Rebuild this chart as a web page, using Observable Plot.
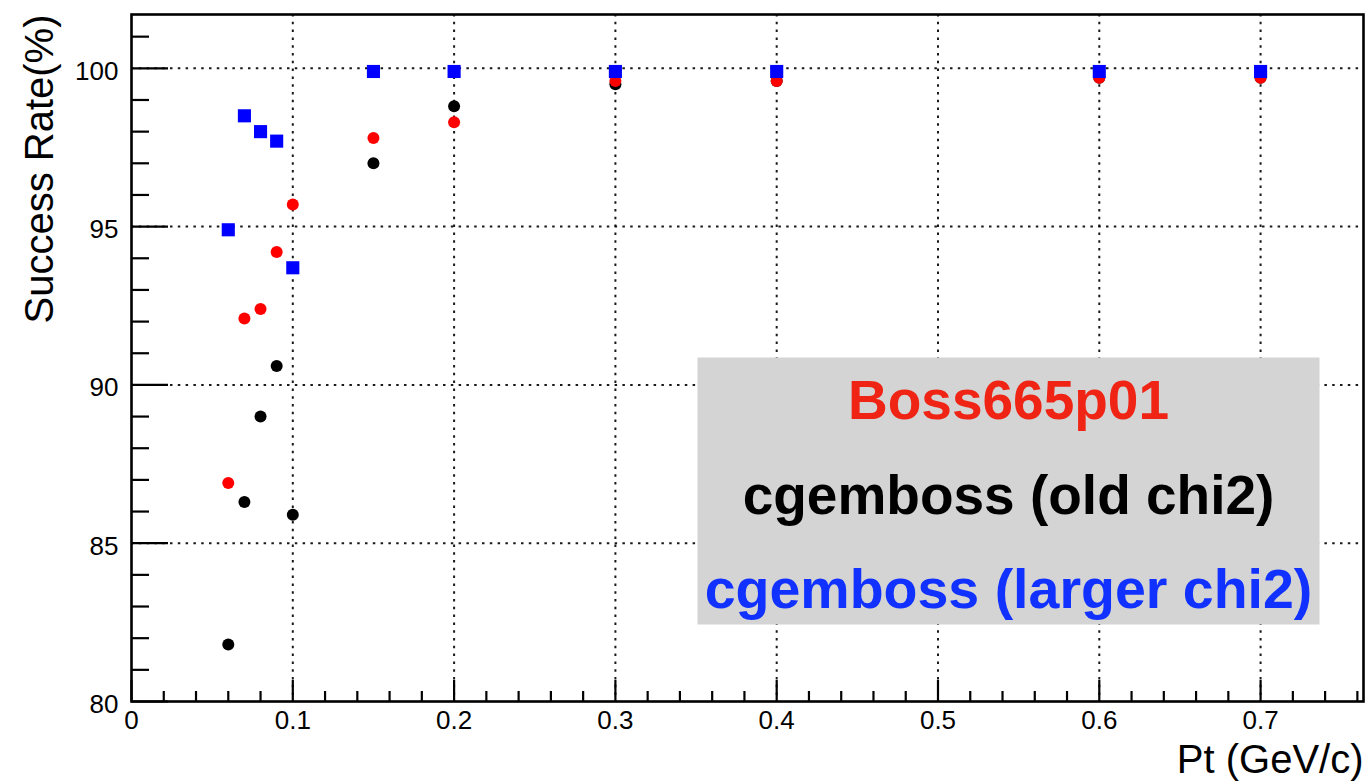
<!DOCTYPE html>
<html>
<head>
<meta charset="utf-8">
<script src="https://cdn.jsdelivr.net/npm/d3@7"></script>
<script src="https://cdn.jsdelivr.net/npm/@observablehq/plot@0.6"></script>
<style>
  body { margin: 0; background: #fff; }
  svg { display: block; }
</style>
</head>
<body>
<div id="chart"></div>
<script>
// Track-finding success rate versus transverse momentum for three reconstructions
const pt = [0.06, 0.07, 0.08, 0.09, 0.1, 0.15, 0.2, 0.3, 0.4, 0.6, 0.7];
const boss665p01 = [86.9, 92.1, 92.4, 94.2, 95.7, 97.8, 98.3, 99.6, 99.6, 99.7, 99.7];
const oldChi2    = [81.8, 86.3, 89.0, 90.6, 85.9, 97.0, 98.8, 99.5, 99.6, 99.7, 99.7];
const largerChi2 = [94.9, 98.5, 98.0, 97.7, 93.7, 99.9, 99.9, 99.9, 99.9, 99.9, 99.9];

const seriesNames = ["Boss665p01", "cgemboss (old chi2)", "cgemboss (larger chi2)"];
const xMajorTicks = [0, 0.1, 0.2, 0.3, 0.4, 0.5, 0.6, 0.7];
const yMajorTicks = [80, 85, 90, 95, 100];
const xTitle = "Pt (GeV/c)";
const yTitle = "Success Rate(%)";

const rows = (values) => pt.map((x, i) => ({x, y: values[i]}));

// minor ticks: every 0.02 in Pt, every 1% in rate
const xMinorTicks = d3.range(1, 39).filter(i => i % 5 !== 0).map(i => i * 0.02);
const yMinorTicks = d3.range(81, 102).filter(v => v % 5 !== 0);

const W = 1372, H = 781;
const mL = 131, mR = 9, mT = 14, mB = 80;
const fw = W - mL - mR, fh = H - mT - mB;

const dotted = {stroke: "#000", strokeWidth: 2, strokeDasharray: "2.5,5.3", strokeOpacity: 0.9};
const tickStyle = {stroke: "#000", strokeWidth: 2.2};
const font = "'Liberation Sans', Arial, Helvetica, sans-serif";
const plainNumber = d => `${d}`;

const chart = Plot.plot({
  width: W,
  height: H,
  marginLeft: mL,
  marginRight: mR,
  marginTop: mT,
  marginBottom: mB,
  style: {fontFamily: font, background: "#fff", color: "#000"},
  x: {domain: [0, 0.7638]},
  y: {domain: [80, 101.7]},
  marks: [
    // dotted grid at the major ticks
    Plot.ruleX(xMajorTicks.slice(1), dotted),
    Plot.ruleY(yMajorTicks.slice(1), dotted),

    // points, drawn old chi2 first so that the others sit on top
    Plot.dot(rows(oldChi2), {x: "x", y: "y", r: 6, fill: "#000", stroke: "none"}),
    Plot.dot(rows(boss665p01), {x: "x", y: "y", r: 6, fill: "#ff0000", stroke: "none"}),
    Plot.dot(rows(largerChi2), {x: "x", y: "y", r: 7.4, symbol: "square", fill: "#0000ff", stroke: "none"}),

    // legend panel
    Plot.frame({fill: "#d4d4d4", stroke: "none", insetLeft: 566, insetRight: 44, insetTop: 343, insetBottom: 77}),
    Plot.text([seriesNames[0]], {frameAnchor: "top-left", dx: 877, dy: 404, textAnchor: "middle", lineAnchor: "bottom", fontSize: 55, fontWeight: "bold", fill: "#ef2414"}),
    Plot.text([seriesNames[1]], {frameAnchor: "top-left", dx: 877, dy: 499, textAnchor: "middle", lineAnchor: "bottom", fontSize: 55, fontWeight: "bold", fill: "#000"}),
    Plot.text([seriesNames[2]], {frameAnchor: "top-left", dx: 877, dy: 593, textAnchor: "middle", lineAnchor: "bottom", fontSize: 55.5, fontWeight: "bold", fill: "#1031ff"}),

    // inward ticks on the bottom and left axes
    Plot.tickX(xMajorTicks, {x: d => d, insetTop: fh - 21, ...tickStyle}),
    Plot.tickX(xMinorTicks, {x: d => d, insetTop: fh - 10, ...tickStyle}),
    Plot.tickY(yMajorTicks, {y: d => d, insetRight: fw - 37, ...tickStyle}),
    Plot.tickY(yMinorTicks, {y: d => d, insetRight: fw - 18, ...tickStyle}),

    // tick labels
    Plot.axisX({ticks: xMajorTicks, tickFormat: plainNumber, tickSize: 0, tickPadding: 9, fontSize: 26, label: null}),
    Plot.axisY({ticks: yMajorTicks, tickFormat: plainNumber, tickSize: 0, tickPadding: 13, fontSize: 26, dy: 3, label: null}),

    // axis titles
    Plot.text([xTitle], {frameAnchor: "bottom-right", textAnchor: "end", lineAnchor: "bottom", dy: 71, fontSize: 40, fill: "#000"}),
    Plot.text([yTitle], {frameAnchor: "top-left", rotate: -90, textAnchor: "end", lineAnchor: "bottom", dx: -79, dy: 0, fontSize: 40, fill: "#000"}),

    // plot frame
    Plot.frame({stroke: "#000", strokeWidth: 2.6})
  ]
});

document.getElementById("chart").appendChild(chart);
</script>
</body>
</html>
